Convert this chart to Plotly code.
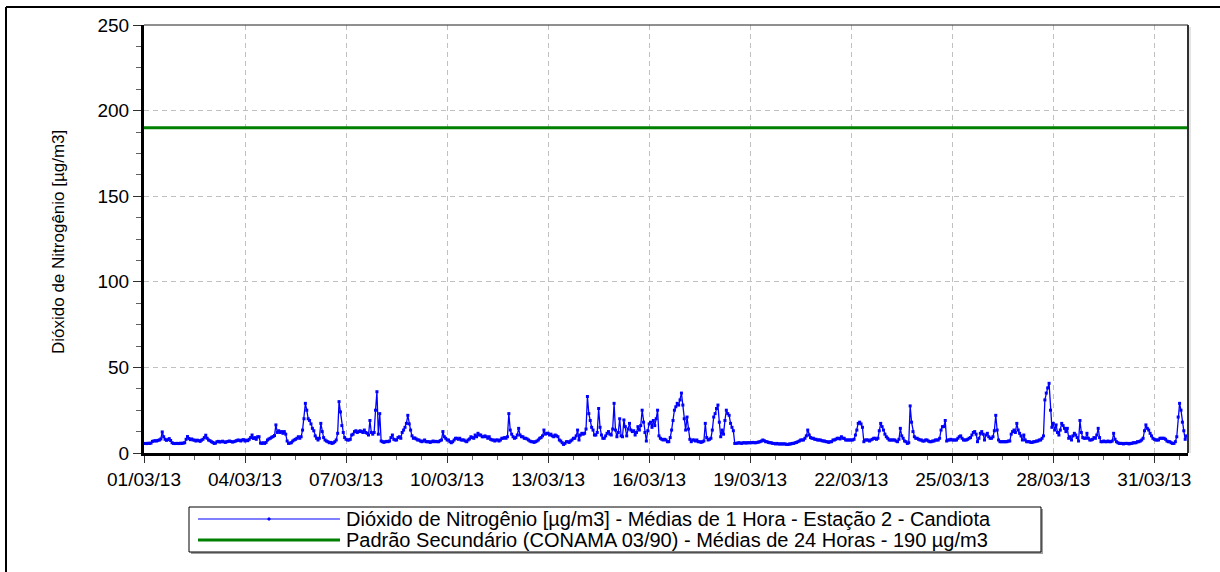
import pandas as pd
import plotly.graph_objects as go

# ---------------- data ----------------
start_date = "2013-03-01 00:00"
end_date = "2013-04-01 00:00"

# NO2 hourly means (µg/m3), one row per day 01/03/13 .. 31/03/13
no2_hourly = [
    5.5, 5.6, 5.5, 5.7, 5.6, 5.8, 6.8, 7.0, 7.2, 7.0, 7.4, 7.6, 8.2, 12.3, 9.5, 8.0, 7.4, 7.8, 8.4, 7.3, 6.0, 5.6, 5.5, 5.6,
    5.6, 5.5, 5.7, 5.6, 5.8, 6.0, 8.0, 9.6, 8.5, 7.8, 8.2, 7.6, 7.5, 7.0, 7.5, 7.2, 6.8, 7.5, 8.0, 9.0, 10.4, 8.6, 7.6, 7.2,
    6.6, 6.2, 5.6, 5.8, 6.6, 6.8, 6.4, 6.6, 6.9, 6.5, 6.2, 6.6, 6.8, 7.0, 6.7, 6.4, 6.6, 6.9, 7.2, 7.6, 7.4, 7.0, 7.6, 7.8,
    7.0, 7.5, 7.2, 8.0, 9.0, 10.5, 8.5, 9.0, 8.0, 9.5, 9.5, 5.8, 5.6, 6.0, 5.6, 6.2, 7.6, 8.2, 8.6, 9.2, 9.6, 10.2, 16.4, 12.0,
    13.0, 12.0, 12.5, 11.5, 12.5, 11.0, 7.0, 5.6, 5.8, 6.0, 7.0, 7.6, 8.0, 8.6, 9.5, 8.6, 9.5, 13.4, 20.0, 29.0, 25.0, 20.0, 19.0, 17.0,
    14.4, 13.0, 10.0, 8.6, 7.6, 8.6, 17.3, 12.5, 9.0, 7.6, 7.0, 6.6, 6.0, 6.2, 5.6, 6.0, 6.6, 7.6, 11.5, 30.0, 24.0, 16.0, 12.0, 9.0,
    8.0, 7.6, 7.6, 8.0, 10.5, 11.0, 12.5, 13.0, 12.0, 12.5, 13.0, 12.5, 12.0, 13.4, 12.0, 11.5, 10.5, 19.0, 12.0, 11.0, 12.0, 25.0, 35.8, 11.0,
    23.0, 7.0, 6.6, 6.2, 6.6, 6.8, 6.6, 7.0, 9.0, 10.5, 8.0, 7.6, 7.6, 9.0, 9.5, 8.6, 12.0, 13.4, 15.0, 17.3, 22.0, 17.0, 13.4, 10.0,
    8.6, 8.8, 8.2, 7.6, 7.6, 7.0, 6.6, 7.0, 7.6, 6.6, 6.6, 6.6, 6.2, 6.6, 7.0, 6.6, 6.8, 6.6, 6.6, 7.2, 7.6, 12.5, 9.5, 8.6,
    7.6, 7.6, 6.6, 6.0, 6.6, 7.6, 8.6, 8.6, 8.0, 8.6, 7.6, 7.6, 7.6, 7.0, 6.6, 7.6, 8.2, 9.5, 9.0, 8.6, 10.5, 9.5, 11.5, 10.5,
    10.5, 9.5, 9.5, 10.0, 9.5, 8.6, 9.5, 8.0, 7.6, 7.6, 7.0, 7.6, 7.6, 7.0, 7.6, 8.6, 8.6, 9.0, 8.6, 9.5, 23.0, 13.4, 11.0, 9.5,
    8.6, 9.0, 10.5, 14.4, 10.5, 9.5, 9.5, 8.6, 8.6, 8.2, 7.6, 7.0, 6.6, 6.6, 6.2, 6.6, 7.0, 7.6, 8.6, 9.0, 10.0, 13.4, 11.0, 11.5,
    11.5, 10.5, 11.0, 10.0, 9.5, 10.5, 10.0, 9.5, 7.6, 7.0, 6.0, 5.0, 5.6, 6.6, 6.6, 6.2, 7.0, 7.6, 8.6, 8.6, 10.0, 13.4, 7.6, 10.5,
    11.5, 11.0, 11.5, 14.0, 33.0, 23.0, 19.0, 15.0, 13.4, 10.5, 10.5, 12.0, 26.0, 15.0, 10.5, 8.6, 8.6, 10.0, 11.5, 12.5, 11.0, 10.5, 14.0, 29.0,
    13.4, 9.5, 12.0, 20.0, 10.0, 9.5, 19.3, 15.4, 10.0, 14.0, 17.3, 13.4, 12.5, 13.0, 10.5, 12.0, 15.4, 13.4, 16.0, 25.0, 18.0, 12.0, 7.0, 13.0,
    17.0, 18.0, 15.0, 19.0, 16.0, 20.0, 25.0, 10.0, 8.6, 8.0, 7.6, 8.0, 7.6, 6.6, 6.6, 9.0, 13.4, 19.0, 25.0, 27.0, 29.0, 28.0, 31.0, 35.0,
    28.0, 20.0, 13.4, 21.0, 14.0, 8.0, 6.6, 7.6, 7.6, 7.0, 7.6, 6.6, 6.6, 6.2, 6.6, 7.0, 17.3, 9.0, 7.6, 8.0, 8.6, 13.4, 21.0, 23.0,
    26.0, 28.0, 18.0, 9.5, 13.4, 11.0, 19.0, 25.0, 23.0, 22.0, 17.3, 15.0, 13.0, 5.6, 5.6, 5.8, 6.0, 5.8, 5.6, 6.0, 6.0, 5.8, 6.0, 6.0,
    6.0, 6.0, 6.2, 6.0, 6.0, 6.2, 6.4, 6.6, 7.0, 7.6, 7.2, 6.6, 6.6, 6.2, 6.0, 6.0, 5.6, 5.6, 5.3, 5.6, 5.3, 5.3, 5.3, 5.3,
    5.3, 5.3, 5.0, 5.0, 5.3, 5.3, 5.6, 5.6, 6.0, 6.2, 6.6, 7.0, 7.6, 7.6, 7.6, 8.6, 10.0, 13.4, 10.5, 9.0, 8.6, 8.6, 8.0, 8.0,
    7.6, 7.6, 7.6, 7.2, 7.0, 7.0, 6.6, 6.6, 6.2, 6.6, 6.6, 7.6, 7.6, 8.0, 8.6, 8.6, 8.2, 9.5, 8.6, 8.6, 7.6, 7.6, 7.6, 7.6,
    7.6, 7.6, 8.0, 10.5, 13.4, 17.3, 18.0, 17.0, 15.0, 6.6, 7.6, 7.6, 7.6, 7.0, 7.6, 8.0, 8.6, 8.6, 8.0, 8.6, 13.0, 17.3, 15.4, 13.4,
    11.0, 9.5, 8.6, 7.6, 7.6, 7.6, 7.6, 7.6, 7.0, 6.6, 8.0, 14.4, 10.0, 8.6, 7.0, 6.6, 5.6, 6.0, 27.5, 18.0, 12.5, 9.5, 8.6, 8.6,
    8.0, 7.6, 7.6, 7.0, 7.0, 7.6, 7.6, 7.0, 6.6, 6.6, 7.0, 7.0, 7.6, 7.6, 7.6, 8.6, 13.4, 15.4, 15.4, 19.0, 7.0, 7.6, 7.6, 8.0,
    7.6, 7.6, 7.6, 7.6, 8.6, 9.5, 10.0, 8.6, 7.6, 7.6, 7.6, 8.0, 8.6, 9.0, 10.5, 12.0, 12.5, 11.0, 6.6, 8.6, 11.5, 12.5, 11.0, 7.6,
    10.5, 11.5, 9.5, 8.6, 8.6, 9.5, 13.0, 22.0, 13.4, 7.6, 6.6, 6.6, 6.6, 6.6, 6.6, 6.6, 7.0, 7.0, 11.0, 12.5, 13.4, 12.0, 17.3, 13.4,
    11.5, 10.0, 7.6, 10.5, 7.6, 6.6, 6.6, 6.6, 6.2, 6.2, 6.6, 6.6, 7.0, 7.0, 7.6, 7.6, 8.6, 10.0, 31.0, 35.0, 38.0, 40.7, 25.0, 15.0,
    17.3, 13.4, 16.4, 12.0, 10.5, 13.4, 17.3, 16.0, 14.4, 12.5, 14.4, 8.6, 9.5, 7.6, 10.0, 11.5, 10.5, 9.0, 7.0, 19.0, 12.0, 9.0, 8.6, 8.6,
    11.5, 8.6, 7.6, 7.6, 8.0, 9.0, 8.6, 10.5, 14.4, 9.0, 6.6, 6.6, 7.0, 6.6, 6.6, 7.0, 6.6, 6.6, 7.0, 11.5, 8.0, 6.6, 6.0, 5.6,
    5.6, 5.6, 5.3, 5.6, 5.6, 5.6, 5.3, 5.6, 5.6, 6.0, 6.0, 6.0, 6.6, 6.6, 7.0, 7.6, 8.6, 13.0, 16.4, 14.4, 13.4, 11.5, 10.0, 8.6,
    8.0, 7.6, 7.6, 7.6, 8.6, 8.6, 8.6, 8.6, 8.0, 7.0, 6.6, 6.6, 6.0, 5.6, 5.6, 6.6, 9.5, 21.0, 29.0, 25.0, 18.0, 13.0, 8.0, 10.0,
]

padrao_value = 190  # Padrão Secundário CONAMA 03/90 (µg/m3)

tick_dates = ["2013-03-01", "2013-03-04", "2013-03-07", "2013-03-10", "2013-03-13", "2013-03-16",
              "2013-03-19", "2013-03-22", "2013-03-25", "2013-03-28", "2013-03-31"]
tick_labels = ["01/03/13", "04/03/13", "07/03/13", "10/03/13", "13/03/13", "16/03/13",
               "19/03/13", "22/03/13", "25/03/13", "28/03/13", "31/03/13"]
y_ticks = [0, 50, 100, 150, 200, 250]

series_names = [
    "Dióxido de Nitrogênio [µg/m3] - Médias de 1 Hora - Estação 2 - Candiota",
    "Padrão Secundário (CONAMA 03/90) - Médias de 24 Horas - 190 µg/m3",
]
y_title = "Dióxido de Nitrogênio [µg/m3]"

# ---------------- figure ----------------
hours = pd.date_range(start_date, periods=len(no2_hourly), freq="h")

BLUE = "#0000FF"
GREEN = "#008000"
FONT = "Liberation Sans, Arial, sans-serif"

fig = go.Figure()
fig.add_trace(go.Scatter(
    x=[start_date, end_date], y=[padrao_value, padrao_value],
    mode="lines", line=dict(color=GREEN, width=3), name=series_names[1],
    showlegend=False, hoverinfo="skip"))
fig.add_trace(go.Scatter(
    x=hours, y=no2_hourly, mode="lines+markers",
    line=dict(color=BLUE, width=1.3), marker=dict(color=BLUE, size=3, symbol="square"),
    name=series_names[0], showlegend=False))

W, H = 1220, 572
L, R, T, B = 144, 1188, 25, 453
pw, ph = R - L, B - T


def px(x):
    return (x - L) / pw


def py(y):
    return (B - y) / ph


shapes = []
# outer frame (top & left)
shapes.append(dict(type="line", xref="paper", yref="paper", x0=px(6), x1=px(1230), y0=py(7), y1=py(7),
                   line=dict(color="black", width=2)))
shapes.append(dict(type="line", xref="paper", yref="paper", x0=px(6), x1=px(6), y0=py(7), y1=py(580),
                   line=dict(color="black", width=2)))
# plot box top & right
shapes.append(dict(type="line", xref="paper", yref="paper", x0=0, x1=1, y0=1, y1=1,
                   line=dict(color="#202020", width=1)))
shapes.append(dict(type="line", xref="paper", yref="paper", x0=px(1190), x1=px(1190), y0=py(27), y1=py(453),
                   line=dict(color="#C8C8C8", width=1)))
shapes.append(dict(type="line", xref="paper", yref="paper", x0=1, x1=1, y0=0, y1=1,
                   line=dict(color="#303030", width=2)))

# manual legend
lx0, lx1, ly0, ly1 = 189, 1041, 507, 552
shapes.append(dict(type="rect", xref="paper", yref="paper", x0=px(lx0 + 2), x1=px(lx1 + 2), y0=py(ly0 + 2), y1=py(ly1 + 2),
                   line=dict(width=0), fillcolor="#A0A0A0", layer="above"))
shapes.append(dict(type="rect", xref="paper", yref="paper", x0=px(lx0), x1=px(lx1), y0=py(ly0), y1=py(ly1),
                   line=dict(color="black", width=1), fillcolor="white", layer="above"))
shapes.append(dict(type="line", xref="paper", yref="paper", x0=px(198), x1=px(340), y0=py(519), y1=py(519),
                   line=dict(color=BLUE, width=1), layer="above"))
shapes.append(dict(type="rect", xref="paper", yref="paper", x0=px(268), x1=px(270), y0=py(518), y1=py(520),
                   line=dict(color=BLUE, width=1), fillcolor=BLUE, layer="above"))
shapes.append(dict(type="line", xref="paper", yref="paper", x0=px(198), x1=px(340), y0=py(540), y1=py(540),
                   line=dict(color=GREEN, width=3), layer="above"))

annotations = [
    dict(xref="paper", yref="paper", x=px(344), y=py(519), xanchor="left", yanchor="middle",
         text=series_names[0], showarrow=False, font=dict(family=FONT, size=20, color="black")),
    dict(xref="paper", yref="paper", x=px(344), y=py(540), xanchor="left", yanchor="middle",
         text=series_names[1], showarrow=False, font=dict(family=FONT, size=20, color="black")),
    dict(xref="paper", yref="paper", x=px(58), y=py(242), xanchor="center", yanchor="middle",
         text=y_title, textangle=-90, showarrow=False, font=dict(family=FONT, size=17, color="black")),
]

fig.update_layout(
    width=W, height=H,
    margin=dict(l=L, r=W - R, t=T, b=H - B, pad=0),
    paper_bgcolor="white", plot_bgcolor="white",
    font=dict(family=FONT, size=19, color="black"),
    showlegend=False,
    shapes=shapes, annotations=annotations,
    xaxis=dict(
        type="date", range=[start_date, end_date],
        tickmode="array", tickvals=tick_dates, ticktext=tick_labels,
        ticks="outside", ticklen=7, tickwidth=1, tickcolor="#303030",
        tickfont=dict(family=FONT, size=19, color="black"),
        showgrid=True, gridcolor="#C0C0C0", gridwidth=1, griddash="5px,4px",
        showline=True, linecolor="black", linewidth=3, zeroline=False,
        minor=dict(tickmode="linear", tick0=start_date, dtick=18 * 3600 * 1000,
                   ticks="outside", ticklen=4, tickcolor="#606060", showgrid=False),
        fixedrange=True,
    ),
    yaxis=dict(
        range=[0, 250], tickmode="array", tickvals=y_ticks,
        ticks="outside", ticklen=8, tickwidth=1, tickcolor="#303030",
        tickfont=dict(family=FONT, size=19, color="black"),
        showgrid=True, gridcolor="#C0C0C0", gridwidth=1, griddash="5px,4px",
        showline=True, linecolor="black", linewidth=3, zeroline=False,
        minor=dict(tickmode="linear", tick0=0, dtick=12.5, ticks="outside", ticklen=5,
                   tickcolor="#606060", showgrid=False),
        fixedrange=True,
    ),
)

fig.write_html("out.html", config={"displayModeBar": False},
               post_script="document.body.style.margin='0px';document.body.style.overflow='hidden';")
